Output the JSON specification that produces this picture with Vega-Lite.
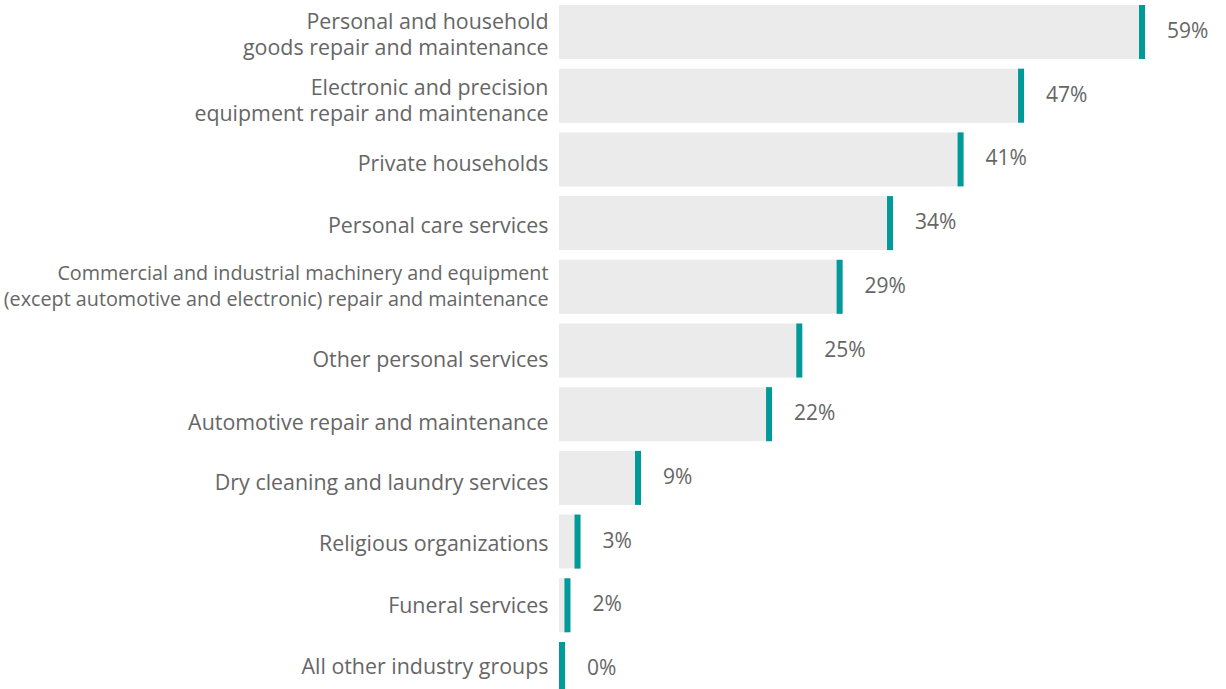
{
  "$schema": "https://vega.github.io/schema/vega-lite/v6.json",
  "width": 667,
  "height": 689,
  "autosize": {"type": "none"},
  "padding": {"left": 559, "top": 0, "right": 0, "bottom": 0},
  "background": "white",
  "config": {"view": {"stroke": null}, "font": "Open Sans"},
  "data": {
    "values": [
      {"group": "Personal and household|goods repair and maintenance", "value": 59, "label": "59%"},
      {"group": "Electronic and precision|equipment repair and maintenance", "value": 47, "label": "47%"},
      {"group": "Private households", "value": 41, "label": "41%"},
      {"group": "Personal care services", "value": 34, "label": "34%"},
      {"group": "Commercial and industrial machinery and equipment|(except automotive and electronic) repair and maintenance", "value": 29, "label": "29%"},
      {"group": "Other personal services", "value": 25, "label": "25%"},
      {"group": "Automotive repair and maintenance", "value": 22, "label": "22%"},
      {"group": "Dry cleaning and laundry services", "value": 9, "label": "9%"},
      {"group": "Religious organizations", "value": 3, "label": "3%"},
      {"group": "Funeral services", "value": 2, "label": "2%"},
      {"group": "All other industry groups", "value": 0, "label": "0%"}
    ]
  },
  "encoding": {
    "y": {
      "field": "group",
      "type": "nominal",
      "sort": null,
      "scale": {"range": [0, 701], "paddingInner": 0.152, "paddingOuter": 0.0785},
      "axis": {
        "title": null,
        "domain": false,
        "ticks": false,
        "labelPadding": 11,
        "labelLimit": 700,
        "labelFontSize": {"condition": {"test": "indexof(datum.value, 'Commercial') >= 0", "value": 19.75}, "value": 21.4},
        "labelOffset": {
          "condition": [
            {"test": "indexof(datum.value, 'Personal and household') >= 0", "value": -9},
            {"test": "indexof(datum.value, 'Electronic') >= 0", "value": -7},
            {"test": "indexof(datum.value, 'Commercial') >= 0", "value": -13},
            {"test": "datum.value == 'Private households'", "value": 6},
            {"test": "datum.value == 'Personal care services'", "value": 4},
            {"test": "datum.value == 'Other personal services'", "value": 10},
            {"test": "datum.value == 'Automotive repair and maintenance'", "value": 10},
            {"test": "datum.value == 'Dry cleaning and laundry services'", "value": 6},
            {"test": "datum.value == 'Funeral services'", "value": 2},
            {"test": "datum.value == 'All other industry groups'", "value": -1}
          ],
          "value": 3
        },
        "labelColor": "#666666",
        "labelFont": "Open Sans",
        "labelLineHeight": 26,
        "labelExpr": "split(datum.value, '|')"
      }
    },
    "x": {
      "field": "value",
      "type": "quantitative",
      "scale": {"domain": [1.46, 67.63], "clamp": true, "zero": false, "nice": false},
      "axis": null
    }
  },
  "layer": [
    {
      "mark": {"type": "rect", "color": "#ebebeb", "xOffset": 6},
      "encoding": {
        "x2": {"datum": 0}
      }
    },
    {
      "mark": {"type": "rect", "color": "#009b98", "x2Offset": 6},
      "encoding": {
        "x2": {"field": "value"}
      }
    },
    {
      "mark": {"type": "text", "align": "left", "baseline": "middle", "dx": 28, "fontSize": 21, "color": "#666666", "font": "Open Sans"},
      "encoding": {
        "text": {"field": "label"}
      }
    }
  ]
}
